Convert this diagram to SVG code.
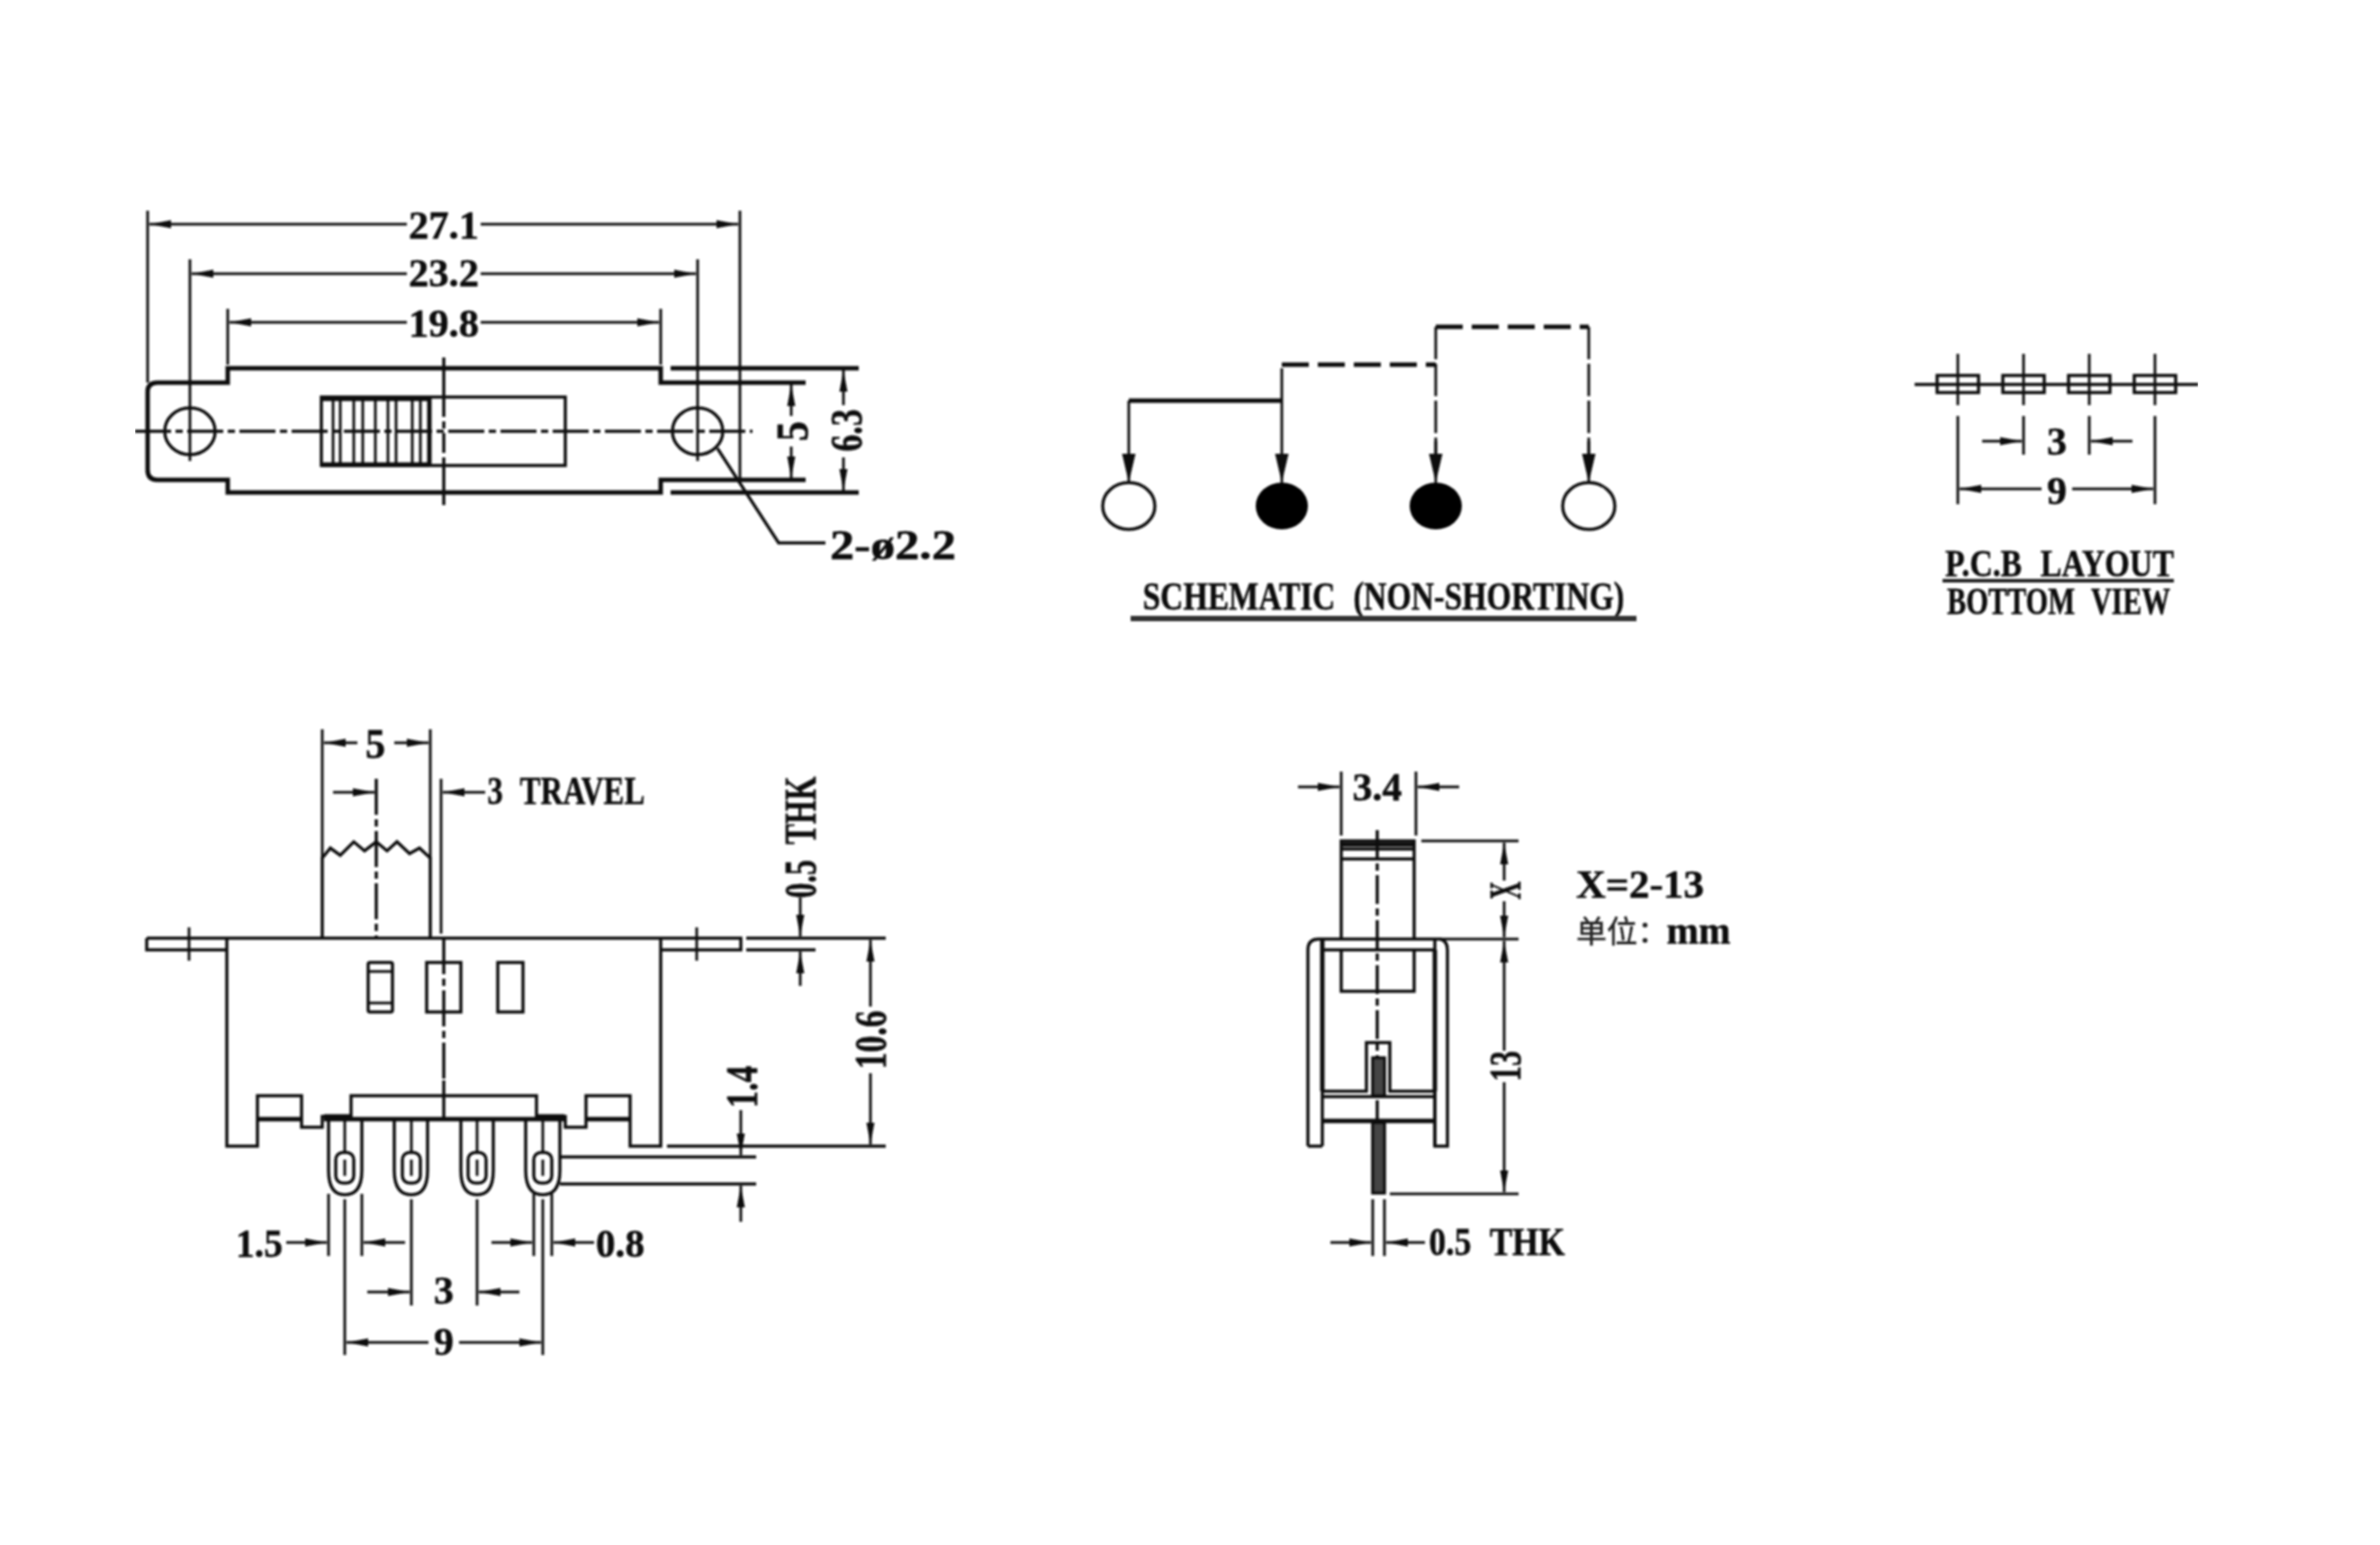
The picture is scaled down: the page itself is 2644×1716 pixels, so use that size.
<svg xmlns="http://www.w3.org/2000/svg" width="2644" height="1716" viewBox="0 0 2644 1716">
<style>
.l{fill:none;stroke:#111;stroke-width:3.5}
.k{fill:none;stroke:#111;stroke-width:5}
.x{fill:none;stroke:#111;stroke-width:3}
.c{fill:none;stroke:#111;stroke-width:3.5;stroke-dasharray:40 5 8 5}
.d{fill:none;stroke:#111;stroke-width:3;stroke-dasharray:36 5}
.h{fill:none;stroke:#111;stroke-width:5;stroke-dasharray:30 10}
.a{fill:none;stroke:#111;stroke-width:3;marker-end:url(#arr)}
.b{fill:none;stroke:#111;stroke-width:3;marker-end:url(#big)}
text{font-family:"Liberation Serif",serif;font-weight:700;font-size:44px;fill:#111;stroke:#111;stroke-width:.6;text-anchor:middle}
.w{word-spacing:14px}
.r{font-size:50px}
</style>
<defs>
<marker id="arr" markerUnits="userSpaceOnUse" markerWidth="26" markerHeight="12" refX="24" refY="6" orient="auto"><path d="M0,1.5L24,6L0,10.5z" fill="#111"/></marker>
<marker id="big" markerUnits="userSpaceOnUse" markerWidth="34" markerHeight="18" refX="32" refY="9" orient="auto"><path d="M0,1.5L32,9L0,16.5z" fill="#111"/></marker>
<filter id="soft" x="0" y="0" width="100%" height="100%"><feGaussianBlur stdDeviation="1"/></filter>
</defs>
<rect width="2644" height="1716" fill="#fff"/>
<g filter="url(#soft)">
<g id="top-view">
<path class="k" d="M164,435Q164,425 175,425H253V409H734V425H895M164,435V522Q164,533 175,533H253V547H734V533H895"/>
<path class="k" d="M745,409H954M745,547H954"/>
<rect class="l" x="357" y="441" width="271" height="76"/>
<path class="x" d="M370,442V516M378,442V516M393,442V516M403,442V516M417,442V516M431,442V516M440,442V516M458,442V516M467,442V516"/>
<path class="k" d="M357,443H477M357,516H477M477,441V517"/>
<ellipse class="l" cx="211" cy="479" rx="28" ry="26"/>
<ellipse class="l" cx="775" cy="479" rx="28" ry="26"/>
<path class="c" d="M150,479H836"/>
<path class="x" d="M211,445V512M775,445V512"/>
<path class="l" d="M493,397V441M493,517V561"/>
<path class="c" d="M493,441V517" style="stroke-dasharray:22 5 8 5"/>
<path class="x" d="M164,234V425M822,234V533M211,288V445M775,288V445M253,343V405M734,343V405"/>
<path class="a" d="M452,249H166"/><path class="a" d="M534,249H820"/>
<path class="a" d="M452,304H213"/><path class="a" d="M534,304H773"/>
<path class="a" d="M452,358H255"/><path class="a" d="M534,358H732"/>
<path class="a" d="M879,462V427"/><path class="a" d="M879,496V531"/>
<path class="a" d="M937,450V411"/><path class="a" d="M937,508V545"/>
<path class="l" d="M797,498L865,603H917"/>
<text x="493" y="265" textLength="78" lengthAdjust="spacingAndGlyphs">27.1</text>
<text x="493" y="318" textLength="78" lengthAdjust="spacingAndGlyphs">23.2</text>
<text x="493" y="374" textLength="78" lengthAdjust="spacingAndGlyphs">19.8</text>
<text class="r" transform="translate(897,479) rotate(-90)" textLength="22" lengthAdjust="spacingAndGlyphs">5</text>
<text class="r" transform="translate(957,478) rotate(-90)" textLength="47" lengthAdjust="spacingAndGlyphs">6.3</text>
<text x="992" y="621" textLength="140" lengthAdjust="spacingAndGlyphs" style="font-size:46px">2-ø2.2</text>
</g>
<g id="schematic">
<ellipse class="l" cx="1254" cy="562" rx="29" ry="26" fill="#fff"/>
<ellipse cx="1424" cy="562" rx="29" ry="26" fill="#000"/>
<ellipse cx="1595" cy="562" rx="29" ry="26" fill="#000"/>
<ellipse class="l" cx="1765" cy="562" rx="29" ry="26" fill="#fff"/>
<path class="k" d="M1254,445H1424"/>
<path class="b" d="M1254,445V536"/>
<path class="b" d="M1424,445V536"/>
<path class="h" d="M1424,405H1595"/>
<path class="h" d="M1595,363H1765"/>
<path class="d" d="M1424,445V405"/>
<path class="d" d="M1595,363V505"/>
<path class="d" d="M1765,363V505"/>
<path class="b" d="M1595,490V536"/>
<path class="b" d="M1765,490V536"/>
<text class="w" x="1537" y="677" textLength="535" lengthAdjust="spacingAndGlyphs">SCHEMATIC (NON-SHORTING)</text>
<path d="M1256,687H1818" stroke="#333" stroke-width="6" fill="none"/>
</g>
<g id="pcb-layout">
<rect class="l" x="2152" y="417" width="46" height="19"/>
<rect class="l" x="2225" y="417" width="46" height="19"/>
<rect class="l" x="2298" y="417" width="46" height="19"/>
<rect class="l" x="2371" y="417" width="46" height="19"/>
<path class="l" d="M2127,427H2442"/>
<path class="x" d="M2175,393V450M2248,393V450M2321,393V450M2394,393V450M2175,462V560M2394,462V560M2248,462V505M2321,462V505"/>
<path class="a" d="M2202,490H2246"/><path class="a" d="M2369,490H2323"/>
<path class="a" d="M2268,543H2177"/><path class="a" d="M2302,543H2392"/>
<text x="2285" y="505" textLength="22" lengthAdjust="spacingAndGlyphs">3</text>
<text x="2285" y="560" textLength="22" lengthAdjust="spacingAndGlyphs">9</text>
<text class="w" x="2288" y="640" textLength="254" lengthAdjust="spacingAndGlyphs" style="font-size:42px">P.C.B LAYOUT</text>
<path d="M2158,645H2415" stroke="#222" stroke-width="4" fill="none"/>
<text class="w" x="2287" y="682" textLength="248" lengthAdjust="spacingAndGlyphs" style="font-size:42px">BOTTOM VIEW</text>
</g>
<g id="front-view">
<path class="l" d="M358,1042V953L367,942L378,950L393,935L405,945L418,935L430,945L441,935L455,948L466,942L478,953V1042"/>
<path class="c" d="M418,865V1042"/>
<path class="x" d="M358,810V953M478,810V953M490,865V1037"/>
<path class="l" d="M163,1042H823V1055H734M163,1042V1055H252M829,1042H984M829,1055H906"/>
<path class="l" d="M252,1042V1273H286V1217H335V1252H358V1240H390V1217H596V1240H628V1252H651V1217H700V1273H734V1042"/>
<path class="k" d="M286,1243H335M651,1243H700M360,1243H627"/>
<path class="k" d="M360,1240H390M596,1240H627"/>
<path class="x" d="M210,1030V1067M774,1030V1067"/>
<rect class="l" x="409" y="1069" width="27" height="55" rx="2"/>
<path class="x" d="M409,1079H436M409,1114H436"/>
<rect class="l" x="474" y="1069" width="38" height="55"/>
<rect class="l" x="553" y="1069" width="28" height="55"/>
<path class="c" d="M493,1042V1200"/>
<path class="l" d="M493,1200V1243"/>
<g id="pins">
<path class="l" d="M365,1243V1300Q365,1327 383,1327Q402,1327 402,1300V1243"/>
<path class="l" d="M438,1243V1300Q438,1327 457,1327Q475,1327 475,1300V1243"/>
<path class="l" d="M512,1243V1300Q512,1327 530,1327Q548,1327 548,1300V1243"/>
<path class="l" d="M584,1243V1300Q584,1327 603,1327Q622,1327 622,1300V1243"/>
<rect class="l" x="373" y="1280" width="20" height="34" rx="8"/>
<rect class="l" x="447" y="1280" width="20" height="34" rx="8"/>
<rect class="l" x="520" y="1280" width="20" height="34" rx="8"/>
<rect class="l" x="593" y="1280" width="20" height="34" rx="8"/>
<path class="x" d="M383,1243V1280M457,1243V1280M530,1243V1280M603,1243V1280M383,1288V1306M457,1288V1306M530,1288V1306M603,1288V1306"/>
</g>
<path class="l" d="M741,1273H984M622,1285H840M622,1315H840"/>
<path class="x" d="M365,1326V1395M402,1326V1395M593,1326V1395M613,1326V1395M457,1332V1450M530,1332V1450M383,1332V1505M603,1332V1505"/>
<path class="a" d="M318,1380H363"/><path class="a" d="M450,1380H404"/>
<path class="a" d="M546,1380H591"/><path class="a" d="M660,1380H615"/>
<path class="a" d="M408,1435H455"/><path class="a" d="M577,1435H532"/>
<path class="a" d="M476,1491H385"/><path class="a" d="M510,1491H601"/>
<path class="a" d="M397,825H360"/><path class="a" d="M438,825H476"/>
<path class="a" d="M370,880H416"/><path class="a" d="M539,880H492"/>
<path class="a" d="M889,997V1040"/><path class="a" d="M889,1095V1057"/>
<path class="a" d="M967,1118V1044"/><path class="a" d="M967,1192V1271"/>
<path class="a" d="M823,1233V1283"/><path class="a" d="M823,1357V1317"/>
<text x="417" y="842" textLength="22" lengthAdjust="spacingAndGlyphs" style="font-size:46px">5</text>
<text class="w" x="629" y="893" textLength="175" lengthAdjust="spacingAndGlyphs">3 TRAVEL</text>
<text class="r w" transform="translate(906,930) rotate(-90)" textLength="135" lengthAdjust="spacingAndGlyphs">0.5 THK</text>
<text class="r" transform="translate(984,1155) rotate(-90)" textLength="65" lengthAdjust="spacingAndGlyphs">10.6</text>
<text class="r" transform="translate(841,1207) rotate(-90)" textLength="47" lengthAdjust="spacingAndGlyphs">1.4</text>
<text x="288" y="1396" textLength="52" lengthAdjust="spacingAndGlyphs">1.5</text>
<text x="689" y="1396" textLength="54" lengthAdjust="spacingAndGlyphs">0.8</text>
<text x="493" y="1448" textLength="22" lengthAdjust="spacingAndGlyphs">3</text>
<text x="493" y="1505" textLength="22" lengthAdjust="spacingAndGlyphs">9</text>
</g>
<g id="side-view">
<path class="l" d="M1490,1043V934H1571V1043M1490,943H1571M1490,954H1571"/>
<path class="k" d="M1490,938H1571"/>
<path class="l" d="M1490,1055V1101H1571V1055"/>
<path class="c" d="M1530,922V1246" style="stroke-dasharray:32 5 8 5"/>
<path class="x" d="M1490,857V928M1573,857V928M1579,934H1687M1544,1326H1687M1600,1043H1687"/>
<path class="l" d="M1453,1273V1055Q1453,1043 1465,1043H1600Q1608,1045 1608,1055V1273H1594V1043M1469,1055H1594M1469,1273H1453"/>
<path class="k" d="M1469,1043V1212M1594,1055V1212"/>
<path class="l" d="M1469,1212V1273M1594,1212V1273"/>
<path class="l" d="M1469,1212H1518V1158H1544V1212H1594M1469,1218H1594"/>
<path class="k" d="M1469,1245H1594"/>
<rect x="1525" y="1175" width="13" height="42" fill="#444" stroke="#111" stroke-width="3.5"/>
<rect x="1525" y="1247" width="13" height="78" fill="#444" stroke="#111" stroke-width="3.5"/>
<path class="x" d="M1525,1332V1395M1538,1332V1395"/>
<path class="a" d="M1442,874H1488"/><path class="a" d="M1621,874H1575"/>
<path class="a" d="M1671,978V936"/><path class="a" d="M1671,1001V1041"/>
<path class="a" d="M1671,1167V1045"/><path class="a" d="M1671,1202V1324"/>
<path class="a" d="M1478,1380H1523"/><path class="a" d="M1583,1380H1540"/>
<text x="1530" y="889" textLength="55" lengthAdjust="spacingAndGlyphs">3.4</text>
<text class="r" transform="translate(1689,989) rotate(-90)" textLength="20" lengthAdjust="spacingAndGlyphs">X</text>
<text class="r" transform="translate(1689,1184) rotate(-90)" textLength="34" lengthAdjust="spacingAndGlyphs">13</text>
<text class="w" x="1663" y="1394" textLength="151" lengthAdjust="spacingAndGlyphs">0.5 THK</text>
<text x="1822" y="997" textLength="142" lengthAdjust="spacingAndGlyphs">X=2-13</text>
<text x="1751" y="1047" style="font-family:'Noto Sans CJK SC',sans-serif;font-weight:400;font-size:34px;fill:#222;stroke-width:.4;text-anchor:start">单位：</text>
<text x="1887" y="1048" textLength="71" lengthAdjust="spacingAndGlyphs">mm</text>
</g>
</g>
</svg>
